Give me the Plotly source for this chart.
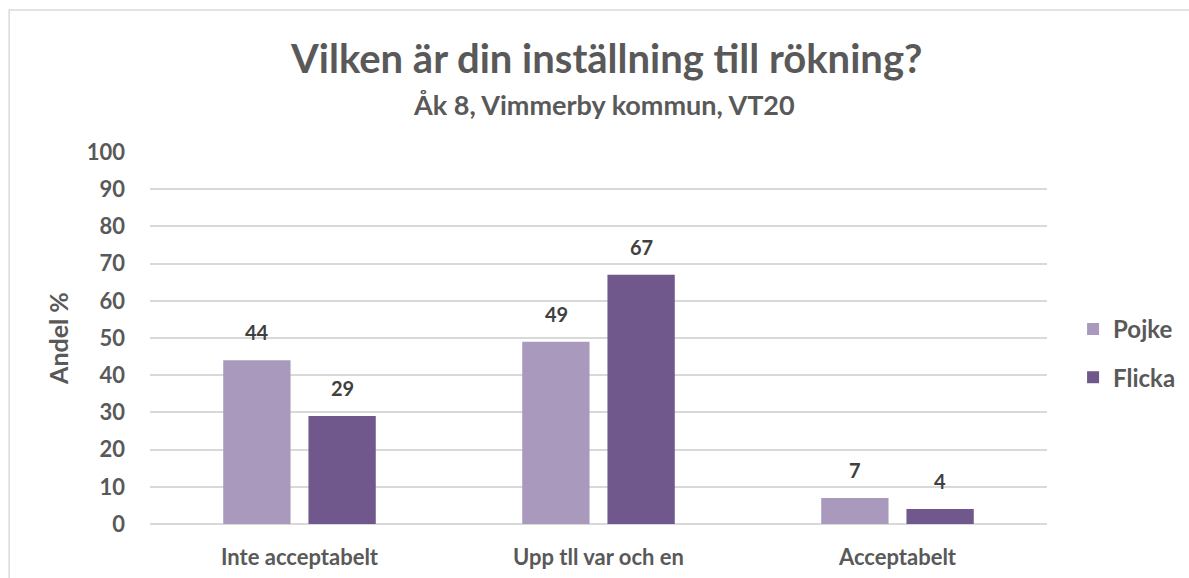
import plotly.graph_objects as go

# Survey answers, share in percent
categories = ["Inte acceptabelt", "Upp tll var och en", "Acceptabelt"]
pojke = [44, 49, 7]
flicka = [29, 67, 4]
series_names = ["Pojke", "Flicka"]
y_ticks = [0, 10, 20, 30, 40, 50, 60, 70, 80, 90, 100]

FONT = "Lato"
GREY = "#595959"
LABEL = "#404040"
COLORS = ["#A99ABD", "#70588C"]


def bold(size, color=GREY):
    return dict(family=FONT, size=size, color=color, weight="bold")


fig = go.Figure()
for i, (name, vals) in enumerate(zip(series_names, [pojke, flicka])):
    fig.add_trace(go.Bar(
        x=categories, y=vals, name=name,
        marker=dict(color=COLORS[i], line=dict(width=0)),
        legendgroup=name,
    ))

# value labels above each bar, offset to the bar's slot within the group
slot_px = 42.5
for i, vals in enumerate([pojke, flicka]):
    for cat, v in zip(categories, vals):
        fig.add_annotation(
            x=cat, y=v, text=str(v), showarrow=False,
            xshift=(-slot_px if i == 0 else slot_px), yshift=14,
            yanchor="bottom", font=bold(20, LABEL),
        )

# heading and sub-heading
fig.add_annotation(
    xref="paper", yref="paper", x=0.508, y=1.253,
    text="Vilken är din inställning till rökning?", showarrow=False,
    xanchor="center", yanchor="middle", font=bold(40),
)
fig.add_annotation(
    xref="paper", yref="paper", x=0.506, y=1.129,
    text="Åk 8, Vimmerby kommun, VT20", showarrow=False,
    xanchor="center", yanchor="middle", font=bold(27),
)

fig.update_layout(
    width=1189, height=578,
    margin=dict(l=150, r=142, t=152, b=54, autoexpand=False),
    paper_bgcolor="white", plot_bgcolor="white",
    barmode="group", bargap=0.43, bargroupgap=0.21,
    font=dict(family=FONT, color=GREY),
    showlegend=True,
    legend=dict(
        xref="container", yref="container",
        x=0.9025, xanchor="left", y=0.469, yanchor="top",
        font=bold(24),
        tracegroupgap=14, traceorder="grouped",
        bgcolor="rgba(0,0,0,0)",
    ),
    xaxis=dict(
        showgrid=False, showline=False, ticks="",
        tickfont=bold(22),
        ticklabelstandoff=18, automargin=False,
    ),
    yaxis=dict(
        range=[0, 100], tickvals=y_ticks,
        showgrid=True, gridcolor="#D9D9D9", gridwidth=1.5,
        zeroline=True, zerolinecolor="#D9D9D9", zerolinewidth=1.5,
        showline=False, ticks="",
        tickfont=bold(22),
        ticklabelstandoff=24, automargin=False,
        title=dict(text="Andel %", standoff=10, font=bold(25)),
    ),
)

# outer chart border
fig.add_shape(
    type="rect", xref="paper", yref="paper",
    x0=-0.157, x1=1.2, y0=-0.2, y1=1.382,
    line=dict(color="#D9D9D9", width=1.5), fillcolor="rgba(0,0,0,0)",
    layer="below",
)

fig.write_html("out.html")
